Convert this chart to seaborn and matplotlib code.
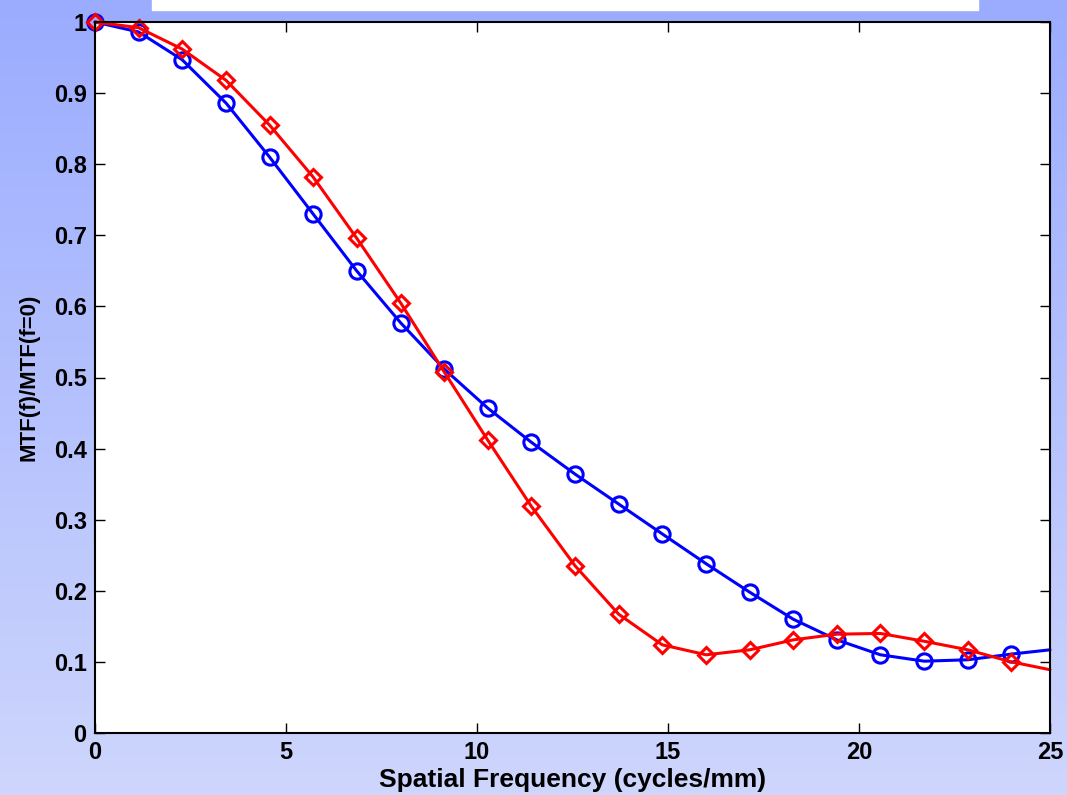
import numpy as np
import pandas as pd
import seaborn as sns
import matplotlib.pyplot as plt

# spatial frequency samples (cycles/mm), marker positions plus the end of the axis
freq = [0.0, 1.14, 2.28, 3.43, 4.57, 5.71, 6.85, 8.0, 9.14, 10.28, 11.42, 12.57,
        13.71, 14.85, 16.0, 17.14, 18.28, 19.42, 20.56, 21.71, 22.85, 23.99, 25.0]

mtf_blue = [1.0, 0.986, 0.947, 0.886, 0.810, 0.730, 0.650, 0.577, 0.512, 0.457, 0.409, 0.364,
            0.322, 0.280, 0.238, 0.198, 0.160, 0.131, 0.110, 0.101, 0.103, 0.111, 0.117]

mtf_red = [1.0, 0.992, 0.962, 0.918, 0.855, 0.782, 0.696, 0.605, 0.508, 0.412, 0.319, 0.235,
           0.167, 0.124, 0.110, 0.117, 0.131, 0.139, 0.140, 0.129, 0.117, 0.100, 0.089]

xticks = [0, 5, 10, 15, 20, 25]
yticks = [0, 0.1, 0.2, 0.3, 0.4, 0.5, 0.6, 0.7, 0.8, 0.9, 1]
yticklabels = ['0', '0.1', '0.2', '0.3', '0.4', '0.5', '0.6', '0.7', '0.8', '0.9', '1']

df = pd.DataFrame({'freq': freq, 'blue': mtf_blue, 'red': mtf_red})
# last sample (25) is only the line end, no marker there
n_mark = len(freq) - 1

sns.set_style('ticks')
plt.rcParams['font.family'] = ['Liberation Sans', 'DejaVu Sans']
plt.rcParams['font.weight'] = 'bold'
plt.rcParams['text.color'] = 'black'
plt.rcParams['axes.labelcolor'] = 'black'
plt.rcParams['xtick.color'] = 'black'
plt.rcParams['ytick.color'] = 'black'

fig = plt.figure(figsize=(10.67, 7.95), dpi=100)

# blue gradient background
bg = fig.add_axes([0, 0, 1, 1], zorder=-10)
top = np.array([155, 172, 255]) / 255
bot = np.array([206, 214, 252]) / 255
t = np.linspace(0, 1, 256)[:, None]
grad = top[None, :] * (1 - t) + bot[None, :] * t
bg.imshow(grad[:, None, :], aspect='auto', extent=[0, 1, 0, 1])
bg.add_patch(plt.Rectangle((152 / 1067, 1 - 10 / 795), (978 - 152) / 1067, 10 / 795,
                           color='white', transform=bg.transAxes))
bg.set_axis_off()

ax = fig.add_axes([95 / 1067, 62 / 795, 955 / 1067, 711 / 795])
ax.set_facecolor('white')

sns.lineplot(data=df, x='freq', y='blue', ax=ax, color='#0000ff', lw=2.2,
             marker='o', markersize=11, mfc='none', mec='#0000ff', mew=2.2,
             markevery=list(range(n_mark)), clip_on=False)
sns.lineplot(data=df, x='freq', y='red', ax=ax, color='#ff0000', lw=2.2,
             marker='D', markersize=8.5, mfc='none', mec='#ff0000', mew=2.2,
             markevery=list(range(n_mark)), clip_on=False)

ax.set_xlim(0, 25)
ax.set_ylim(0, 1)
ax.set_xticks(xticks)
ax.set_yticks(yticks)
ax.set_yticklabels(yticklabels)
ax.tick_params(direction='in', length=7, width=1, top=True, right=True,
               labelsize=17, pad=6)
for lab in ax.get_xticklabels() + ax.get_yticklabels():
    lab.set_fontweight('bold')
for s in ax.spines.values():
    s.set_linewidth(1.5)
    s.set_color('black')

ax.set_xlabel('Spatial Frequency (cycles/mm)', fontsize=19, fontweight='bold', labelpad=3)
ax.set_ylabel('MTF(f)/MTF(f=0)', fontsize=16, fontweight='bold', labelpad=10)

fig.savefig('out.png', dpi=100)
